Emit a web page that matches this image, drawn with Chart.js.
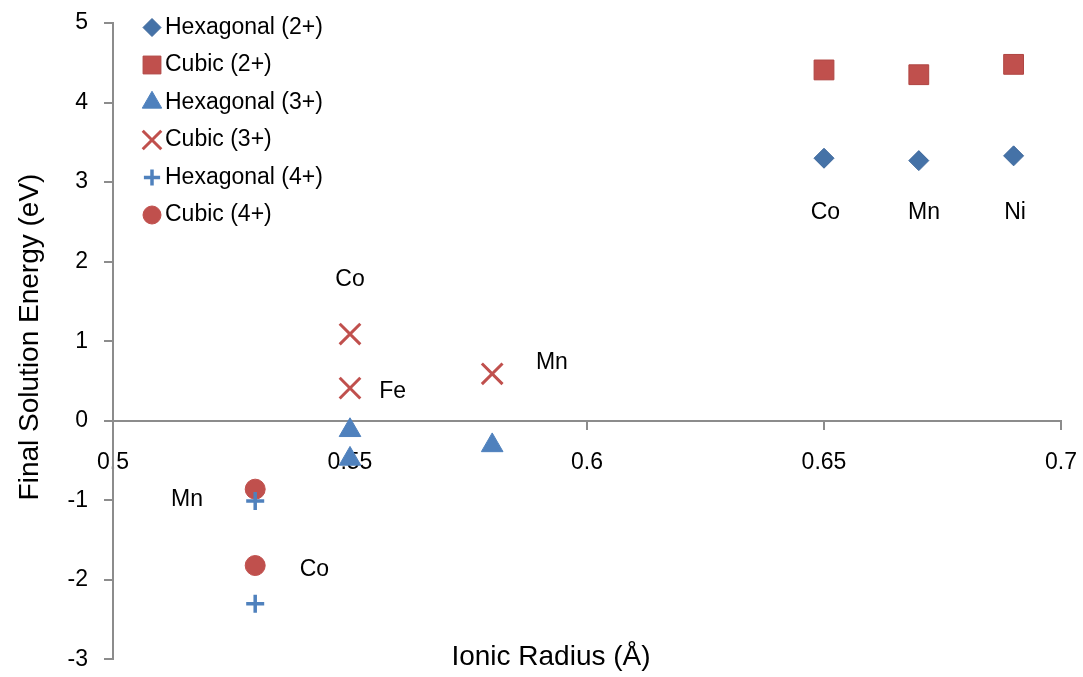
<!DOCTYPE html>
<html>
<head>
<meta charset="utf-8">
<script src="https://cdn.jsdelivr.net/npm/chart.js@4.4.1/dist/chart.umd.min.js"></script>
<style>
  body { margin: 0; background: #fff; }
  #wrap { width: 1083px; height: 677px; }
</style>
</head>
<body>
<div id="wrap"><canvas id="myChart"></canvas></div>
<script>
var seriesNames = ["Hexagonal (2+)", "Cubic (2+)", "Hexagonal (3+)", "Cubic (3+)", "Hexagonal (4+)", "Cubic (4+)"];

var hex2Radius = [0.65, 0.67, 0.69];
var hex2Energy = [3.30, 3.27, 3.33];
var cub2Radius = [0.65, 0.67, 0.69];
var cub2Energy = [4.41, 4.35, 4.48];
var hex3Radius = [0.55, 0.55, 0.58];
var hex3Energy = [-0.12, -0.48, -0.31];
var cub3Radius = [0.55, 0.55, 0.58];
var cub3Energy = [1.09, 0.41, 0.59];
var hex4Radius = [0.53, 0.53];
var hex4Energy = [-1.01, -2.30];
var cub4Radius = [0.53, 0.53];
var cub4Energy = [-0.86, -1.82];

var xTicks = [0.5, 0.55, 0.6, 0.65, 0.7];
var yTicks = [-3, -2, -1, 0, 1, 2, 3, 4, 5];

// element names written next to the points (radius, energy)
var labelText = ["Co", "Fe", "Mn", "Mn", "Co", "Co", "Mn", "Ni"];
var labelX = [0.55, 0.559, 0.5926, 0.5156, 0.5425, 0.6503, 0.6711, 0.6903];
var labelY = [1.775, 0.3625, 0.73, -0.99, -1.87, 2.61, 2.61, 2.61];

var fontFamily = "'Liberation Sans', Arial, sans-serif";
var axisGray = "#8c8c8c";

Chart.defaults.font.family = fontFamily;

function pts(xs, ys) {
  return xs.map(function (x, i) { return {x: x, y: ys[i]}; });
}

var styles = [
  {pointStyle: "rectRot", radius: 10, fill: "#4572A7", line: "#3D679B", width: 1},
  {pointStyle: "rect", radius: 14, fill: "#C0504D", line: "#B04542", width: 1},
  {pointStyle: "triangle", radius: 12.5, fill: "#4F81BD", line: "#4F81BD", width: 1},
  {pointStyle: "crossRot", radius: 14.6, fill: "#C0504D", line: "#C0504D", width: 3},
  {pointStyle: "cross", radius: 9, fill: "#4F81BD", line: "#4F81BD", width: 3.5},
  {pointStyle: "circle", radius: 10, fill: "#C0504D", line: "#C0504D", width: 1}
];

var seriesData = [
  pts(hex2Radius, hex2Energy),
  pts(cub2Radius, cub2Energy),
  pts(hex3Radius, hex3Energy),
  pts(cub3Radius, cub3Energy),
  pts(hex4Radius, hex4Energy),
  pts(cub4Radius, cub4Energy)
];

var datasets = seriesNames.map(function (name, i) {
  var s = styles[i];
  return {
    label: name,
    data: seriesData[i],
    pointStyle: s.pointStyle,
    pointRadius: s.radius,
    pointBackgroundColor: s.fill,
    pointBorderColor: s.line,
    pointBorderWidth: s.width,
    showLine: false,
    clip: false
  };
});

// legend in the top-left corner of the plot
var legendPlugin = {
  id: "cornerLegend",
  afterDraw: function (chart) {
    var ctx = chart.ctx;
    ctx.save();
    ctx.font = "23px " + fontFamily;
    ctx.textBaseline = "middle";
    ctx.textAlign = "left";
    seriesNames.forEach(function (name, i) {
      var s = styles[i];
      var y = 27.5 + i * 37.5;
      ctx.fillStyle = s.fill;
      ctx.strokeStyle = s.line;
      ctx.lineWidth = s.width;
      Chart.helpers.drawPoint(ctx, {pointStyle: s.pointStyle, radius: s.radius * 0.9, rotation: 0, borderWidth: s.width}, 152, y);
      ctx.fillStyle = "#000";
      ctx.fillText(name, 165, y);
    });
    ctx.restore();
  }
};

// element labels and axis titles
var textPlugin = {
  id: "textBits",
  afterDatasetsDraw: function (chart) {
    var ctx = chart.ctx;
    var xs = chart.scales.x, ys = chart.scales.y;
    ctx.save();
    ctx.fillStyle = "#000";
    ctx.textAlign = "center";
    ctx.textBaseline = "middle";
    ctx.font = "23px " + fontFamily;
    labelText.forEach(function (t, i) {
      ctx.fillText(t, xs.getPixelForValue(labelX[i]), ys.getPixelForValue(labelY[i]));
    });
    ctx.font = "28px " + fontFamily;
    ctx.fillText("Ionic Radius (\u00C5)", 551, 657);
    ctx.translate(30, 337);
    ctx.rotate(-Math.PI / 2);
    ctx.fillText("Final Solution Energy (eV)", 0, 0);
    ctx.restore();
  }
};

new Chart("myChart", {
  type: "scatter",
  data: {datasets: datasets},
  options: {
    responsive: true,
    maintainAspectRatio: false,
    animation: false,
    events: [],
    layout: {padding: {left: 0, right: 22, top: 23, bottom: 0}},
    plugins: {
      legend: {display: false},
      tooltip: {enabled: false}
    },
    scales: {
      x: {
        type: "linear",
        position: {y: 0},
        min: 0.5,
        max: 0.7,
        afterBuildTicks: function (s) { s.ticks = xTicks.map(function (v) { return {value: v}; }); },
        afterFit: function (s) {
          s.height = 0;
          s.paddingLeft = 0;
          s.paddingRight = 0;
          s.paddingTop = 0;
          s.paddingBottom = 0;
        },
        grid: {drawOnChartArea: false, color: axisGray, lineWidth: 2, tickLength: 8},
        border: {color: axisGray, width: 2},
        ticks: {
          color: "#000",
          font: {size: 23},
          padding: 20,
          maxRotation: 0,
          autoSkip: false,
          callback: function (v) { return String(v); }
        }
      },
      y: {
        type: "linear",
        position: "left",
        min: -3,
        max: 5,
        afterBuildTicks: function (s) { s.ticks = yTicks.map(function (v) { return {value: v}; }); },
        afterFit: function (s) {
          s.width = 113;
          s.paddingTop = 0;
          s.paddingBottom = 0;
        },
        grid: {drawOnChartArea: false, color: axisGray, lineWidth: 2, tickLength: 9},
        border: {color: axisGray, width: 2},
        ticks: {
          color: "#000",
          font: {size: 23},
          padding: 16,
          callback: function (v) { return String(v); }
        }
      }
    }
  },
  plugins: [legendPlugin, textPlugin]
});
</script>
</body>
</html>
